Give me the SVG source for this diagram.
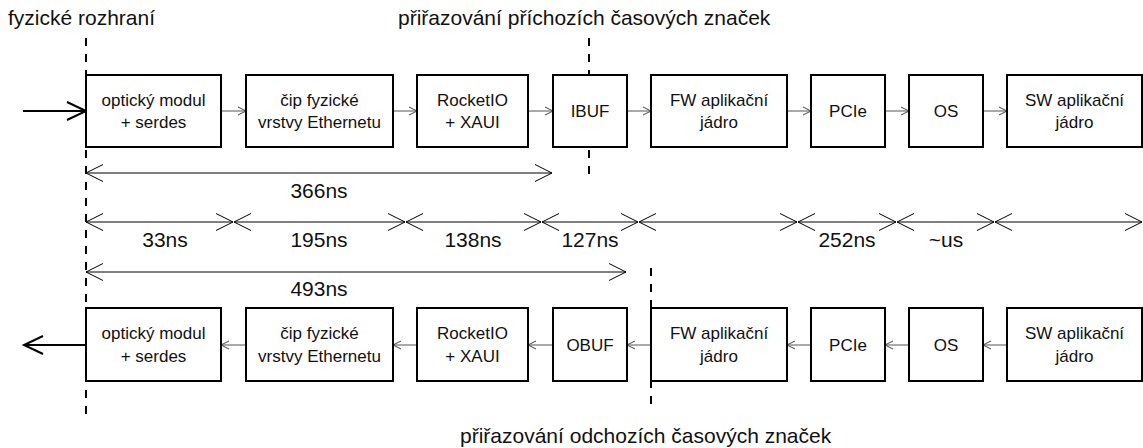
<svg xmlns="http://www.w3.org/2000/svg" width="1143" height="448" viewBox="0 0 1143 448">
  <style>
    .box { fill: #fff; stroke: #000; stroke-width: 2; }
    .bt { font-family: "Liberation Sans", Arial, sans-serif; font-size: 17px; fill: #111; text-anchor: middle; }
    .lbl { font-family: "Liberation Sans", Arial, sans-serif; font-size: 21px; fill: #111; }
    .mid { text-anchor: middle; }
    .dash { stroke: #000; stroke-width: 2; stroke-dasharray: 8 8; fill: none; }
    .link { stroke: #555; stroke-width: 1; fill: none; marker-end: url(#small); }
    .io { stroke: #000; stroke-width: 2; fill: none; marker-end: url(#big); }
    .dim { stroke: #000; stroke-width: 1; fill: none; marker-start: url(#dimhead); marker-end: url(#dimhead); }
  </style>
  <defs>
    <marker id="small" markerUnits="userSpaceOnUse" markerWidth="12" markerHeight="12" refX="9" refY="5" orient="auto" viewBox="0 0 12 10">
      <path d="M1,1 L9,5 L1,9" fill="none" stroke="#444" stroke-width="1"/>
    </marker>
    <marker id="big" markerUnits="userSpaceOnUse" markerWidth="24" markerHeight="22" refX="20" refY="10" orient="auto" viewBox="0 0 24 20">
      <path d="M1,1 L20,10 L1,19" fill="none" stroke="#000" stroke-width="2"/>
    </marker>
    <marker id="dimhead" markerUnits="userSpaceOnUse" markerWidth="20" markerHeight="20" refX="18" refY="9" orient="auto-start-reverse" viewBox="0 0 20 18">
      <path d="M1,0.5 L18,9 L1,17.5" fill="none" stroke="#000" stroke-width="1"/>
    </marker>
  </defs>

  <!-- reference planes -->
  <g id="planes">
    <line class="dash" x1="86" y1="38" x2="86" y2="418"/>
    <line class="dash" x1="589" y1="38" x2="589" y2="180"/>
    <line class="dash" x1="651" y1="268" x2="651" y2="412"/>
    <text class="lbl" x="8" y="25">fyzické rozhraní</text>
    <text class="lbl" x="398" y="25">přiřazování příchozích časových značek</text>
    <text class="lbl" x="460" y="443">přiřazování odchozích časových značek</text>
  </g>

  <!-- connectors -->
  <g id="connectors">
    <line class="io" x1="23" y1="111" x2="86" y2="111"/>
    <line class="link" x1="221" y1="111" x2="246" y2="111"/>
    <line class="link" x1="393" y1="111" x2="417" y2="111"/>
    <line class="link" x1="528" y1="111" x2="553" y2="111"/>
    <line class="link" x1="627" y1="111" x2="651" y2="111"/>
    <line class="link" x1="787" y1="111" x2="811" y2="111"/>
    <line class="link" x1="885" y1="111" x2="909" y2="111"/>
    <line class="link" x1="983" y1="111" x2="1007" y2="111"/>

    <line class="io" x1="86" y1="345" x2="24" y2="345"/>
    <line class="link" x1="246" y1="345" x2="221" y2="345"/>
    <line class="link" x1="417" y1="345" x2="393" y2="345"/>
    <line class="link" x1="553" y1="345" x2="528" y2="345"/>
    <line class="link" x1="651" y1="345" x2="627" y2="345"/>
    <line class="link" x1="811" y1="345" x2="787" y2="345"/>
    <line class="link" x1="909" y1="345" x2="885" y2="345"/>
    <line class="link" x1="1007" y1="345" x2="983" y2="345"/>
  </g>

  <!-- receive path -->
  <g id="rx-optic"><rect class="box" x="86" y="75" width="135" height="72"/>
    <text class="bt" x="153.5" y="106">optický modul</text><text class="bt" x="153.5" y="128">+ serdes</text></g>
  <g id="rx-phy"><rect class="box" x="246" y="75" width="147" height="72"/>
    <text class="bt" x="319.5" y="106">čip fyzické</text><text class="bt" x="319.5" y="128">vrstvy Ethernetu</text></g>
  <g id="rx-rocketio"><rect class="box" x="417" y="75" width="111" height="72"/>
    <text class="bt" x="472.5" y="106">RocketIO</text><text class="bt" x="472.5" y="128">+ XAUI</text></g>
  <g id="rx-ibuf"><rect class="box" x="553" y="75" width="74" height="72"/>
    <text class="bt" x="590" y="117">IBUF</text></g>
  <g id="rx-fw"><rect class="box" x="651" y="75" width="136" height="72"/>
    <text class="bt" x="719" y="106">FW aplikační</text><text class="bt" x="719" y="128">jádro</text></g>
  <g id="rx-pcie"><rect class="box" x="811" y="75" width="74" height="72"/>
    <text class="bt" x="848" y="117">PCIe</text></g>
  <g id="rx-os"><rect class="box" x="909" y="75" width="74" height="72"/>
    <text class="bt" x="946" y="117">OS</text></g>
  <g id="rx-sw"><rect class="box" x="1007" y="75" width="135" height="72"/>
    <text class="bt" x="1074.5" y="106">SW aplikační</text><text class="bt" x="1074.5" y="128">jádro</text></g>

  <!-- transmit path -->
  <g id="tx-optic"><rect class="box" x="86" y="308" width="135" height="73"/>
    <text class="bt" x="153.5" y="339">optický modul</text><text class="bt" x="153.5" y="362">+ serdes</text></g>
  <g id="tx-phy"><rect class="box" x="246" y="308" width="147" height="73"/>
    <text class="bt" x="319.5" y="339">čip fyzické</text><text class="bt" x="319.5" y="362">vrstvy Ethernetu</text></g>
  <g id="tx-rocketio"><rect class="box" x="417" y="308" width="111" height="73"/>
    <text class="bt" x="472.5" y="339">RocketIO</text><text class="bt" x="472.5" y="362">+ XAUI</text></g>
  <g id="tx-obuf"><rect class="box" x="553" y="308" width="74" height="73"/>
    <text class="bt" x="590" y="351">OBUF</text></g>
  <g id="tx-fw"><rect class="box" x="651" y="308" width="136" height="73"/>
    <text class="bt" x="719" y="339">FW aplikační</text><text class="bt" x="719" y="362">jádro</text></g>
  <g id="tx-pcie"><rect class="box" x="811" y="308" width="74" height="73"/>
    <text class="bt" x="848" y="351">PCIe</text></g>
  <g id="tx-os"><rect class="box" x="909" y="308" width="74" height="73"/>
    <text class="bt" x="946" y="351">OS</text></g>
  <g id="tx-sw"><rect class="box" x="1007" y="308" width="135" height="73"/>
    <text class="bt" x="1074.5" y="339">SW aplikační</text><text class="bt" x="1074.5" y="362">jádro</text></g>

  <!-- latency dimensions -->
  <g id="dimensions">
    <line class="dim" x1="86" y1="173" x2="552" y2="173"/>
    <text class="lbl mid" x="319" y="198">366ns</text>

    <line class="dim" x1="86" y1="222" x2="233" y2="222"/>
    <line class="dim" x1="234" y1="222" x2="405" y2="222"/>
    <line class="dim" x1="406" y1="222" x2="541" y2="222"/>
    <line class="dim" x1="542" y1="222" x2="638" y2="222"/>
    <line class="dim" x1="639" y1="222" x2="797" y2="222"/>
    <line class="dim" x1="798" y1="222" x2="896" y2="222"/>
    <line class="dim" x1="897" y1="222" x2="994" y2="222"/>
    <line class="dim" x1="995" y1="222" x2="1142" y2="222"/>
    <text class="lbl mid" x="165" y="247">33ns</text>
    <text class="lbl mid" x="319" y="247">195ns</text>
    <text class="lbl mid" x="473" y="247">138ns</text>
    <text class="lbl mid" x="590" y="247">127ns</text>
    <text class="lbl mid" x="847" y="247">252ns</text>
    <text class="lbl mid" x="946" y="247">~us</text>

    <line class="dim" x1="86" y1="272" x2="626" y2="272"/>
    <text class="lbl mid" x="319" y="296">493ns</text>
  </g>
</svg>
